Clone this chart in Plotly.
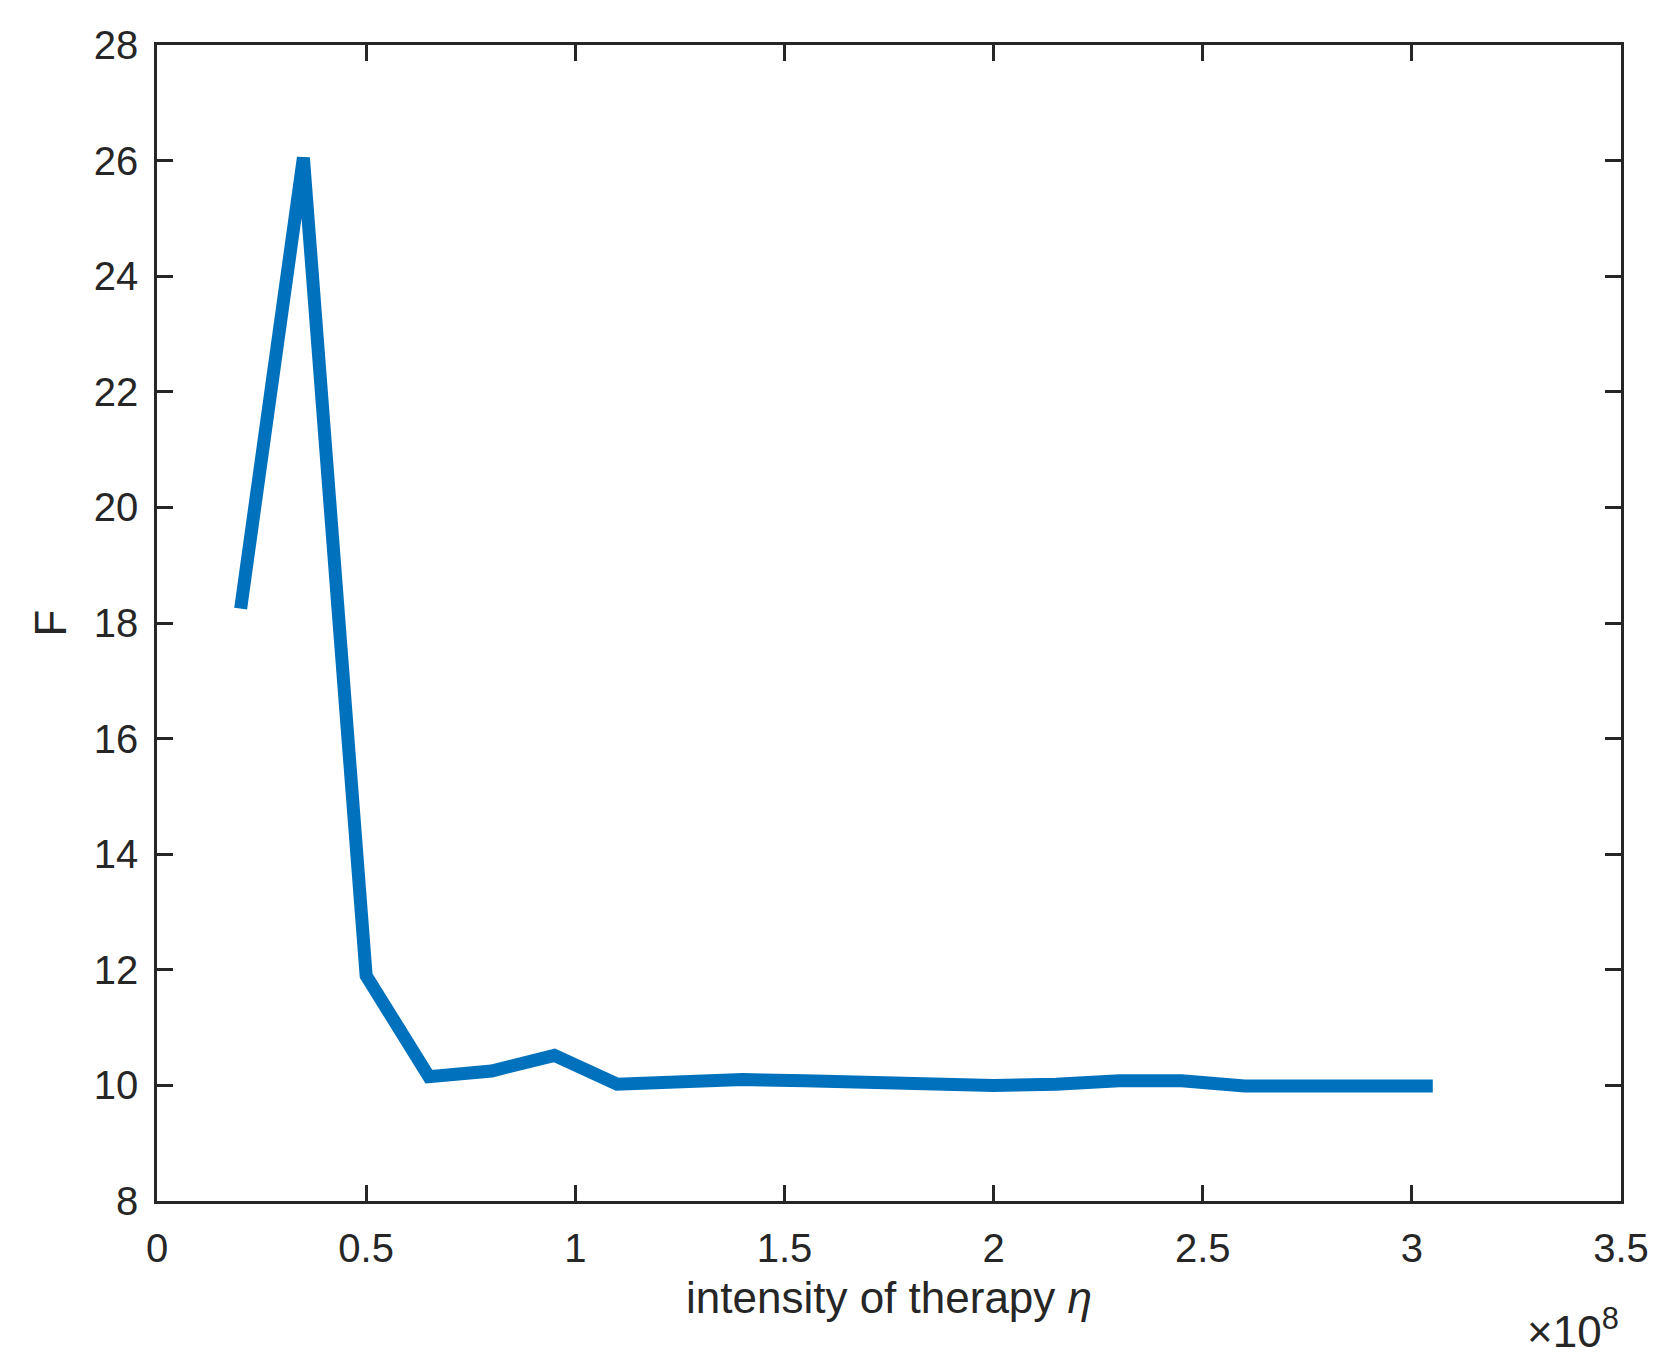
import plotly.graph_objects as go

# intensity of therapy (units of 1e8) and F values
eta = [0.2, 0.35, 0.5, 0.65, 0.8, 0.95, 1.1, 1.25, 1.4, 1.55,
       1.7, 1.85, 2.0, 2.15, 2.3, 2.45, 2.6, 2.75, 2.9, 3.05]
F = [18.25, 26.05, 11.9, 10.15, 10.25, 10.52, 10.02, 10.07, 10.1, 10.08,
     10.04, 10.0, 10.0, 10.02, 10.08, 10.08, 9.99, 9.99, 9.99, 9.99]

x_ticks = [0, 0.5, 1, 1.5, 2, 2.5, 3, 3.5]
y_ticks = [8, 10, 12, 14, 16, 18, 20, 22, 24, 26, 28]

font = dict(family='Liberation Sans, Arial, sans-serif', size=40, color='#262626')
title_font = dict(family='Liberation Sans, Arial, sans-serif', size=44, color='#262626')

fig = go.Figure(go.Scatter(x=eta, y=F, mode='lines',
                           line=dict(color='#0072BD', width=13)))

axis_style = dict(showline=True, linecolor='#262626', linewidth=2.5, mirror='ticks',
                  ticks='inside', ticklen=16, tickwidth=2.5, tickcolor='#262626',
                  showgrid=False, zeroline=False, tickfont=font)

fig.update_xaxes(range=[0, 3.5], tickvals=x_ticks, ticktext=[f'{v:g}' for v in x_ticks],
                 ticklabelstandoff=10,
                 title=dict(text='intensity of therapy <i>η</i>', font=title_font, standoff=14),
                 **axis_style)
fig.update_yaxes(range=[8, 28], tickvals=y_ticks, ticklabelstandoff=8,
                 title=dict(text='F', font=title_font, standoff=14), **axis_style)

fig.add_annotation(text='×10<sup>8</sup>', xref='paper', yref='paper', x=1.0, y=-0.085,
                   xanchor='right', yanchor='top', showarrow=False, font=title_font)

fig.update_layout(width=1665, height=1356, plot_bgcolor='white', paper_bgcolor='white',
                  margin=dict(l=149, r=52, t=37, b=163), showlegend=False, font=font)

fig.write_html('out.html')
